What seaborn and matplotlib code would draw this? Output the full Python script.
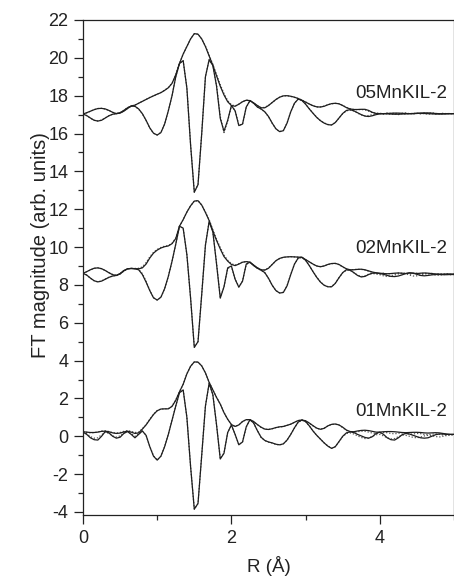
import numpy as np
import matplotlib
matplotlib.use("Agg")
import matplotlib.pyplot as plt
import seaborn as sns

# R grid of the Fourier transform (Angstrom)
r_grid = np.linspace(0, 5, 101)

samples = ["01MnKIL-2", "02MnKIL-2", "05MnKIL-2"]
offsets = [0.0, 8.5, 17.0]

# ---- 01MnKIL-2 ----
mag_fit_01 = [0.24, 0.22, 0.20, 0.20, 0.22, 0.26, 0.27, 0.24, 0.18, 0.15,
              0.17, 0.23, 0.27, 0.22, 0.15, 0.18, 0.38, 0.60, 0.88, 1.15,
              1.35, 1.44, 1.45, 1.45, 1.58, 1.90, 2.35, 2.75, 3.30, 3.70,
              3.93, 3.92, 3.72, 3.35, 2.85, 2.45, 2.05, 1.70, 1.25, 0.90,
              0.62, 0.52, 0.60, 0.78, 0.88, 0.88, 0.78, 0.62, 0.48, 0.38,
              0.36, 0.40, 0.46, 0.50, 0.52, 0.58, 0.64, 0.74, 0.83, 0.86,
              0.82, 0.70, 0.56, 0.43, 0.37, 0.42, 0.55, 0.63, 0.65, 0.60,
              0.48, 0.33, 0.25, 0.24, 0.28, 0.31, 0.32, 0.30, 0.26, 0.22,
              0.22, 0.24, 0.25, 0.25, 0.24, 0.22, 0.20, 0.19, 0.20, 0.21,
              0.21, 0.20, 0.18, 0.17, 0.18, 0.19, 0.18, 0.15, 0.12, 0.10, 0.10]
im_fit_01 = [0.22, 0.10, -0.08, -0.18, -0.20, 0.00, 0.25, 0.18, 0.00, -0.10,
             -0.05, 0.15, 0.25, 0.10, -0.08, 0.10, 0.28, 0.05, -0.55, -1.05,
             -1.26, -1.05, -0.55, 0.10, 0.85, 1.60, 2.30, 2.45, 1.00, -1.60,
             -3.85, -3.55, -1.00, 1.60, 2.80, 2.20, 0.60, -1.20, -0.90, 0.20,
             0.60, 0.10, -0.45, -0.30, 0.50, 0.88, 0.70, 0.30, -0.05, -0.22,
             -0.30, -0.35, -0.42, -0.45, -0.40, -0.20, 0.10, 0.45, 0.75, 0.86,
             0.78, 0.55, 0.28, 0.05, -0.15, -0.35, -0.52, -0.64, -0.55, -0.28,
             0.00, 0.18, 0.24, 0.20, 0.10, 0.02, -0.06, -0.10, -0.02, 0.15,
             0.22, 0.10, -0.08, -0.18, -0.20, -0.08, 0.08, 0.15, 0.12, 0.05,
             -0.02, -0.08, -0.10, -0.08, 0.00, 0.08, 0.12, 0.12, 0.10, 0.10, 0.10]
mag_exp_01 = [0.25, 0.21, 0.18, 0.19, 0.23, 0.28, 0.29, 0.25, 0.19, 0.17,
              0.20, 0.26, 0.30, 0.26, 0.20, 0.22, 0.40, 0.62, 0.90, 1.17,
              1.36, 1.44, 1.45, 1.46, 1.60, 1.92, 2.35, 2.75, 3.30, 3.70,
              3.93, 3.92, 3.72, 3.35, 2.86, 2.46, 2.06, 1.71, 1.26, 0.90,
              0.62, 0.52, 0.60, 0.78, 0.88, 0.87, 0.77, 0.61, 0.47, 0.37,
              0.36, 0.40, 0.46, 0.49, 0.51, 0.57, 0.64, 0.74, 0.83, 0.86,
              0.81, 0.69, 0.55, 0.42, 0.37, 0.43, 0.55, 0.63, 0.64, 0.59,
              0.46, 0.31, 0.22, 0.20, 0.24, 0.27, 0.26, 0.22, 0.17, 0.15,
              0.17, 0.20, 0.19, 0.15, 0.13, 0.16, 0.18, 0.15, 0.11, 0.12,
              0.15, 0.14, 0.10, 0.08, 0.11, 0.13, 0.10, 0.07, 0.06, 0.08, 0.09]
im_exp_01 = [0.23, 0.14, -0.02, -0.10, -0.08, 0.08, 0.22, 0.15, 0.02, -0.04,
             0.02, 0.18, 0.26, 0.14, 0.00, 0.14, 0.28, 0.05, -0.53, -1.03,
             -1.25, -1.05, -0.55, 0.10, 0.85, 1.60, 2.30, 2.45, 1.00, -1.60,
             -3.85, -3.55, -1.00, 1.60, 2.80, 2.20, 0.60, -1.18, -0.88, 0.20,
             0.58, 0.10, -0.44, -0.30, 0.49, 0.87, 0.69, 0.30, -0.06, -0.23,
             -0.31, -0.36, -0.43, -0.46, -0.40, -0.21, 0.10, 0.44, 0.74, 0.85,
             0.77, 0.55, 0.28, 0.05, -0.15, -0.35, -0.51, -0.63, -0.55, -0.29,
             -0.02, 0.15, 0.18, 0.12, 0.02, -0.06, -0.12, -0.10, 0.00, 0.08,
             0.10, 0.02, -0.08, -0.14, -0.12, -0.02, 0.06, 0.05, 0.00, -0.06,
             -0.08, -0.04, 0.02, 0.05, 0.03, -0.01, -0.04, 0.00, 0.04, 0.06, 0.08]

# ---- 02MnKIL-2 ----
mag_fit_02 = [0.11, 0.20, 0.30, 0.38, 0.40, 0.36, 0.26, 0.14, 0.04, 0.00,
              0.10, 0.26, 0.35, 0.37, 0.36, 0.35, 0.40, 0.60, 0.92, 1.18,
              1.34, 1.45, 1.52, 1.56, 1.68, 1.95, 2.60, 2.95, 3.35, 3.68,
              3.93, 3.95, 3.72, 3.33, 2.90, 2.35, 1.85, 1.40, 1.00, 0.76,
              0.58, 0.52, 0.60, 0.70, 0.73, 0.70, 0.55, 0.40, 0.30, 0.28,
              0.38, 0.58, 0.78, 0.90, 0.96, 0.98, 0.99, 0.98, 0.97, 0.96,
              0.84, 0.72, 0.60, 0.50, 0.46, 0.50, 0.58, 0.63, 0.64, 0.58,
              0.46, 0.35, 0.30, 0.30, 0.32, 0.33, 0.30, 0.24, 0.18, 0.14,
              0.12, 0.10, 0.09, 0.10, 0.12, 0.13, 0.12, 0.10, 0.13, 0.12,
              0.10, 0.12, 0.13, 0.12, 0.10, 0.08, 0.07, 0.07, 0.08, 0.08, 0.07]
im_fit_02 = [0.11, 0.02, -0.14, -0.28, -0.34, -0.30, -0.20, -0.10, -0.03, 0.00,
             0.08, 0.24, 0.35, 0.37, 0.35, 0.30, 0.05, -0.35, -0.80, -1.18,
             -1.30, -1.15, -0.70, -0.05, 0.75, 1.65, 2.60, 2.50, 1.10, -1.20,
             -3.80, -3.50, -1.00, 1.60, 2.85, 2.30, 0.60, -1.20, -0.60, 0.40,
             0.50, -0.20, -0.62, -0.30, 0.60, 0.70, 0.52, 0.38, 0.28, 0.15,
             -0.15, -0.52, -0.80, -0.93, -0.90, -0.55, 0.05, 0.60, 0.92, 0.96,
             0.80, 0.52, 0.20, -0.10, -0.35, -0.52, -0.60, -0.60, -0.42, -0.12,
             0.15, 0.30, 0.28, 0.15, 0.00, -0.08, -0.05, 0.05, 0.12, 0.13,
             0.10, 0.06, 0.00, -0.05, -0.06, -0.03, 0.03, 0.10, 0.14, 0.12,
             0.06, 0.00, -0.02, 0.00, 0.03, 0.05, 0.05, 0.04, 0.04, 0.05, 0.05]
mag_exp_02 = [0.11, 0.20, 0.29, 0.38, 0.40, 0.35, 0.26, 0.15, 0.05, 0.01,
              0.10, 0.25, 0.35, 0.37, 0.37, 0.38, 0.45, 0.68, 0.98, 1.22,
              1.38, 1.48, 1.55, 1.58, 1.70, 1.97, 2.60, 2.95, 3.35, 3.68,
              3.93, 3.95, 3.72, 3.35, 2.95, 2.42, 1.92, 1.48, 1.08, 0.80,
              0.62, 0.55, 0.62, 0.71, 0.73, 0.69, 0.54, 0.40, 0.31, 0.30,
              0.40, 0.58, 0.77, 0.89, 0.96, 0.98, 0.99, 0.98, 0.96, 0.95,
              0.83, 0.71, 0.59, 0.50, 0.47, 0.51, 0.58, 0.62, 0.63, 0.57,
              0.45, 0.34, 0.29, 0.31, 0.33, 0.32, 0.28, 0.22, 0.16, 0.10,
              0.08, 0.12, 0.06, 0.11, 0.07, 0.13, 0.09, 0.12, 0.06, 0.10,
              0.12, 0.08, 0.13, 0.09, 0.11, 0.06, 0.10, 0.07, 0.09, 0.05, 0.07]
im_exp_02 = [0.11, 0.02, -0.15, -0.28, -0.34, -0.29, -0.19, -0.09, -0.03, 0.01,
             0.08, 0.23, 0.35, 0.37, 0.36, 0.32, 0.10, -0.30, -0.78, -1.18,
             -1.30, -1.15, -0.70, -0.05, 0.75, 1.65, 2.60, 2.50, 1.10, -1.20,
             -3.80, -3.50, -1.00, 1.60, 2.85, 2.32, 0.65, -1.15, -0.62, 0.36,
             0.48, -0.18, -0.60, -0.30, 0.58, 0.70, 0.52, 0.38, 0.27, 0.14,
             -0.16, -0.52, -0.80, -0.92, -0.89, -0.54, 0.05, 0.60, 0.91, 0.95,
             0.80, 0.52, 0.21, -0.09, -0.34, -0.51, -0.59, -0.59, -0.41, -0.12,
             0.14, 0.28, 0.27, 0.14, 0.02, -0.06, -0.02, 0.07, 0.10, 0.08,
             0.04, -0.02, -0.06, -0.04, 0.02, 0.08, 0.12, 0.09, 0.02, -0.03,
             -0.02, 0.03, 0.07, 0.09, 0.06, 0.02, 0.01, 0.04, 0.06, 0.04, 0.05]

# ---- 05MnKIL-2 ----
mag_fit_05 = [0.03, 0.10, 0.18, 0.26, 0.32, 0.33, 0.30, 0.22, 0.12, 0.05,
              0.08, 0.18, 0.32, 0.46, 0.50, 0.60, 0.70, 0.80, 0.90, 0.99,
              1.08, 1.16, 1.28, 1.42, 1.65, 2.10, 2.70, 3.20, 3.60, 4.00,
              4.28, 4.25, 4.00, 3.60, 3.10, 2.60, 2.05, 1.50, 1.04, 0.68,
              0.48, 0.44, 0.55, 0.68, 0.76, 0.74, 0.62, 0.48, 0.36, 0.36,
              0.48, 0.64, 0.80, 0.92, 0.99, 1.00, 0.97, 0.92, 0.85, 0.76,
              0.66, 0.56, 0.47, 0.41, 0.40, 0.44, 0.52, 0.58, 0.60, 0.57,
              0.48, 0.37, 0.30, 0.27, 0.27, 0.28, 0.28, 0.22, 0.12, 0.06,
              0.05, 0.05, 0.06, 0.07, 0.08, 0.08, 0.07, 0.06, 0.05, 0.05,
              0.06, 0.08, 0.09, 0.09, 0.08, 0.06, 0.05, 0.04, 0.04, 0.05, 0.05]
im_fit_05 = [0.03, -0.05, -0.18, -0.30, -0.34, -0.30, -0.18, -0.06, 0.02, 0.05,
             0.10, 0.22, 0.36, 0.45, 0.44, 0.30, 0.05, -0.30, -0.70, -0.98,
             -1.08, -0.95, -0.50, 0.20, 1.00, 2.00, 2.70, 2.85, 1.40, -1.60,
             -4.10, -3.70, -1.00, 2.00, 2.90, 2.60, 1.50, -0.20, -0.88, -0.30,
             0.48, 0.20, -0.58, -0.50, 0.40, 0.74, 0.60, 0.40, 0.30, 0.15,
             -0.10, -0.45, -0.75, -0.90, -0.85, -0.45, 0.15, 0.60, 0.82, 0.75,
             0.55, 0.30, 0.07, -0.15, -0.32, -0.45, -0.53, -0.55, -0.42, -0.18,
             0.06, 0.22, 0.26, 0.20, 0.10, 0.00, -0.08, -0.10, -0.06, 0.00,
             0.04, 0.05, 0.04, 0.03, 0.02, 0.02, 0.03, 0.04, 0.05, 0.06,
             0.07, 0.07, 0.06, 0.05, 0.04, 0.03, 0.03, 0.04, 0.05, 0.05, 0.05]
mag_exp_05 = [0.03, 0.09, 0.18, 0.27, 0.32, 0.33, 0.29, 0.21, 0.12, 0.06,
              0.08, 0.19, 0.33, 0.45, 0.50, 0.60, 0.71, 0.80, 0.91, 0.99,
              1.08, 1.17, 1.29, 1.43, 1.66, 2.10, 2.70, 3.20, 3.60, 4.00,
              4.27, 4.25, 4.00, 3.62, 3.14, 2.66, 2.12, 1.58, 1.12, 0.74,
              0.52, 0.46, 0.55, 0.69, 0.77, 0.74, 0.61, 0.47, 0.37, 0.38,
              0.49, 0.64, 0.79, 0.92, 0.99, 1.00, 0.96, 0.91, 0.85, 0.77,
              0.67, 0.56, 0.46, 0.40, 0.41, 0.45, 0.52, 0.57, 0.59, 0.58,
              0.49, 0.38, 0.31, 0.27, 0.26, 0.27, 0.25, 0.18, 0.10, 0.08,
              0.07, 0.05, 0.09, 0.06, 0.08, 0.04, 0.07, 0.09, 0.05, 0.06,
              0.08, 0.05, 0.09, 0.07, 0.10, 0.06, 0.04, 0.07, 0.05, 0.06, 0.04]
im_exp_05 = [0.03, -0.06, -0.19, -0.30, -0.34, -0.29, -0.17, -0.06, 0.02, 0.06,
             0.10, 0.23, 0.37, 0.45, 0.43, 0.29, 0.04, -0.31, -0.71, -0.99,
             -1.08, -0.94, -0.49, 0.21, 1.00, 2.00, 2.70, 2.85, 1.40, -1.60,
             -4.10, -3.70, -1.00, 2.00, 2.90, 2.62, 1.55, -0.10, -0.95, -0.35,
             0.45, 0.22, -0.55, -0.52, 0.38, 0.74, 0.61, 0.41, 0.29, 0.14,
             -0.11, -0.46, -0.76, -0.90, -0.84, -0.44, 0.15, 0.60, 0.82, 0.76,
             0.56, 0.31, 0.08, -0.14, -0.32, -0.44, -0.52, -0.54, -0.42, -0.19,
             0.05, 0.20, 0.24, 0.19, 0.08, -0.02, -0.06, -0.05, 0.00, 0.03,
             0.06, 0.02, 0.05, 0.01, 0.04, 0.00, 0.05, 0.02, 0.06, 0.03,
             0.07, 0.04, 0.06, 0.02, 0.05, 0.03, 0.05, 0.02, 0.06, 0.04, 0.05]

fits = [(mag_fit_01, im_fit_01), (mag_fit_02, im_fit_02), (mag_fit_05, im_fit_05)]
exps = [(mag_exp_01, im_exp_01), (mag_exp_02, im_exp_02), (mag_exp_05, im_exp_05)]

# label positions (R, y)
label_pos = [(4.91, 1.33), (4.91, 9.95), (4.91, 18.1)]

sns.set_style("ticks")
plt.rcParams['font.family'] = ['Liberation Sans', 'DejaVu Sans']
plt.rcParams['axes.unicode_minus'] = False

fig = plt.figure(figsize=(4.54, 5.77), dpi=100)
ax = fig.add_axes([83 / 454, 1 - 515 / 577, 371 / 454, 495 / 577])

line_col = "#1e1e1e"
for name, off, (mf, imf), (me, ime), (lx, ly) in zip(samples, offsets, fits, exps, label_pos):
    for vals in (me, ime):
        assert len(vals) == len(r_grid)
        sns.lineplot(x=r_grid, y=np.array(vals) + off, ax=ax, color="#555555",
                     linestyle=(0, (1, 1.5)), linewidth=0.9)
    for vals in (mf, imf):
        assert len(vals) == len(r_grid)
        sns.lineplot(x=r_grid, y=np.array(vals) + off, ax=ax, color=line_col,
                     linewidth=0.9)
    ax.text(lx, ly, name, ha="right", va="center", fontsize=13.5, color="#222222")

ax.set_xlim(0, 5)
ax.set_ylim(-4.16, 22)
ax.set_xticks([0, 2, 4])
ax.set_xticks([1, 3, 5], minor=True)
ax.set_yticks(np.arange(-4, 23, 2))
ax.set_yticks(np.arange(-3, 22, 1), minor=True)
ax.tick_params(axis="both", which="major", direction="out", length=6.5, width=0.9,
               labelsize=13, colors="#222222", pad=4)
ax.tick_params(axis="both", which="minor", direction="out", length=3.5, width=0.9)
ax.tick_params(top=False, right=False)
for sp in ax.spines.values():
    sp.set_linewidth(0.9)
    sp.set_color("#222222")

ax.set_xlabel("R (Å)", fontsize=13.5, color="#222222")
ax.xaxis.set_label_coords(0.5, -0.083)
ax.set_ylabel("FT magnitude (arb. units)", fontsize=14.5, color="#222222")
ax.yaxis.set_label_coords(-0.09, 0.545)

fig.savefig("out.png", dpi=100)
